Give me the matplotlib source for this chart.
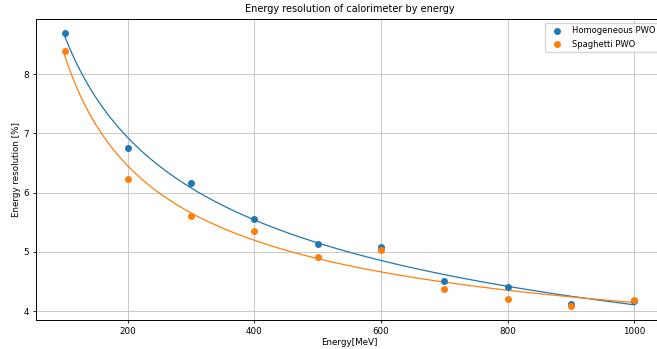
import numpy as np
import matplotlib
matplotlib.use("Agg")
import matplotlib.pyplot as plt

# data
energy = [100, 200, 300, 400, 500, 600, 700, 800, 900, 1000]
res_homogeneous = [8.70, 6.75, 6.17, 5.55, 5.14, 5.085, 4.50, 4.40, 4.12, 4.17]
res_spaghetti = [8.39, 6.23, 5.61, 5.35, 4.92, 5.03, 4.38, 4.21, 4.08, 4.19]


def fit_power(x, y):
    # fit y = a * x^-n + c : scan n, solve a and c by least squares
    x = np.asarray(x, float)
    y = np.asarray(y, float)
    best = None
    for n in np.linspace(0.05, 3.0, 600):
        A = np.column_stack([x ** -n, np.ones_like(x)])
        coef, *_ = np.linalg.lstsq(A, y, rcond=None)
        err = np.sum((A @ coef - y) ** 2)
        if best is None or err < best[0]:
            best = (err, n, coef)
    _, n, (a, c) = best
    return lambda e: a * e ** -n + c


fig = plt.figure(figsize=(6.57, 3.49), dpi=100)
ax = fig.add_axes([36 / 657, 29 / 349, 627 / 657, 301 / 349])

e_fine = np.linspace(min(energy), max(energy), 300)
for vals, label, col in [(res_homogeneous, "Homogeneous PWO", "C0"),
                         (res_spaghetti, "Spaghetti PWO", "C1")]:
    ax.scatter(energy, vals, s=16, color=col, label=label, zorder=3)
    f = fit_power(energy, vals)
    ax.plot(e_fine, f(e_fine), color=col, lw=0.9)

ax.set_title("Energy resolution of calorimeter by energy", fontsize=7.0, pad=5)
ax.set_xlabel("Energy[MeV]", fontsize=6.3, labelpad=1.5)
ax.set_ylabel("Energy resolution [%]", fontsize=6.3, labelpad=2)
ax.tick_params(labelsize=6.3, length=2.5, width=0.6, pad=2.5)
ax.set_xticks([200, 400, 600, 800, 1000])
ax.grid(True, lw=0.7, color="#c8c8c8")
for s in ax.spines.values():
    s.set_linewidth(0.7)
ax.legend(loc="upper right", fontsize=6.0, frameon=True)

fig.savefig("out.png", dpi=100)
